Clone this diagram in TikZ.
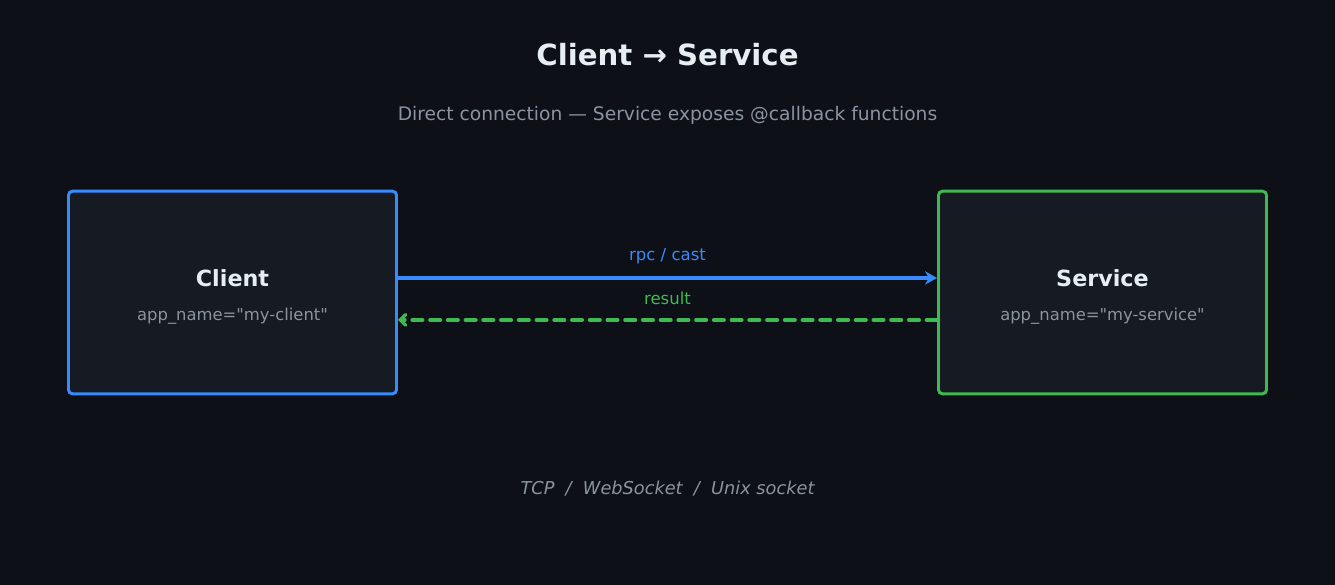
\documentclass[tikz,border=0pt]{standalone}
\usepackage{fontspec}
\setmainfont{DejaVu Sans}[Ligatures=TeXOff]
\usepackage{tikz}
\usetikzlibrary{arrows.meta,positioning}
\usepackage{xcolor}

\definecolor{bgdark}{HTML}{0D1017}
\definecolor{boxfill}{HTML}{161A22}
\definecolor{linkblue}{HTML}{388BFD}
\definecolor{linkgreen}{HTML}{3FB950}
\definecolor{textlight}{HTML}{E6EDF3}
\definecolor{textgrey}{HTML}{8B949E}

\tikzset{
  endpoint/.style={draw,rounded corners=3pt,line width=2.2pt,fill=boxfill,
    minimum width=246pt,minimum height=152pt,inner sep=0pt},
  boxtitle/.style={text=textlight,font=\fontsize{16.7}{20}\selectfont\bfseries},
  boxsub/.style={text=textgrey,font=\fontsize{12.3}{15}\selectfont},
  linklabel/.style={font=\fontsize{12.4}{15}\selectfont},
}

\begin{document}
\begin{tikzpicture}[x=0.75pt,y=-0.75pt,>=Stealth]

% --- background and frame ---
\fill[bgdark] (0,0) rectangle (1335,585);
\useasboundingbox (0,0) rectangle (1335,585);

% --- heading ---
\node[text=textlight,font=\fontsize{21.9}{26}\selectfont\bfseries]
  (heading) at (667.5,55) {Client → Service};
\node[text=textgrey,font=\fontsize{14}{17}\selectfont]
  (subheading) at (667.5,115) {Direct connection — Service exposes @callback functions};

% --- the two endpoints ---
\node[endpoint,draw=linkblue] (client) at (232.5,292.5) {};
\node[boxtitle] (clientname) at (232.5,278) {Client};
\node[boxsub] (clientapp) at (232.5,316) {app\_name="my-client"};

\node[endpoint,draw=linkgreen] (service) at (1102.5,292.5) {};
\node[boxtitle] (servicename) at (1102.5,278) {Service};
\node[boxsub] (serviceapp) at (1102.5,316) {app\_name="my-service"};

% --- request and reply ---
\draw[linkblue,line width=3pt,line cap=round,
      arrows={-Stealth[length=9pt,width=10pt]}]
  ([yshift=10.9pt]client.east) -- ([yshift=10.9pt]service.west);
\node[linklabel,text=linkblue] (rpclabel) at (667.5,256) {rpc / cast};
\draw[linkgreen,line width=2.5pt,line cap=round,dash pattern=on 8pt off 5.3pt,
      arrows={-Straight Barb[length=4pt,width=8pt,line cap=round]}]
  ([yshift=-20.6pt]service.west) -- ([yshift=-20.6pt]client.east);
\node[linklabel,text=linkgreen] (resultlabel) at (667.5,298) {result};

% --- transport note ---
\node[text=textgrey,font=\fontsize{13.3}{16}\selectfont\itshape]
  (transport) at (667.5,489) {TCP \ / \ WebSocket \ / \ Unix socket};

\end{tikzpicture}
\end{document}
